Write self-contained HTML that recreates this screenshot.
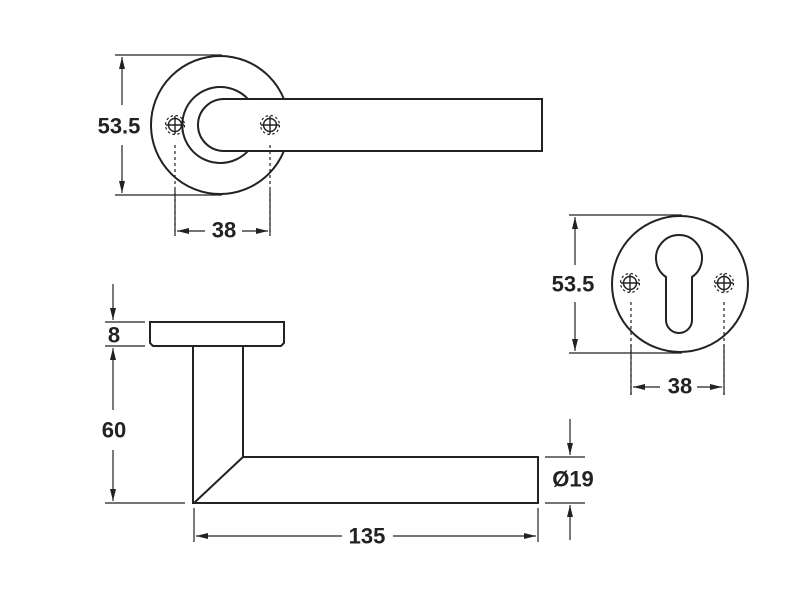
<!DOCTYPE html>
<html><head><style>body{margin:0;background:#fff}svg{display:block}text{font-family:"Liberation Sans",sans-serif;font-size:22px;fill:#222;text-anchor:middle;dominant-baseline:central;font-weight:bold}</style></head><body>
<svg width="800" height="600" viewBox="0 0 800 600" xmlns="http://www.w3.org/2000/svg">
<defs><marker id="a" viewBox="0 0 12 6" refX="12" refY="3" markerWidth="13" markerHeight="6" orient="auto" markerUnits="userSpaceOnUse"><path d="M0,0L12,3L0,6z" fill="#222"/></marker>
<g id="s"><circle r="6.5" fill="none" stroke="#222" stroke-width="1.5"/><line x1="-9" y1="0" x2="9" y2="0" stroke="#222" stroke-width="1.4"/><line x1="0" y1="-9" x2="0" y2="9" stroke="#222" stroke-width="1.4"/><circle r="9.5" fill="none" stroke="#222" stroke-width="1.2" stroke-dasharray="2.5 2.5"/></g></defs>
<g stroke="#222" fill="none" stroke-width="2">
<circle cx="220" cy="125" r="69"/>
<path d="M248,99 A38,38 0 1 0 248,151"/>
<path d="M224,151 H542 V99 H224 A26,26 0 0 0 224,151 Z" fill="#fff"/>
</g>
<g stroke="#222" stroke-width="1.2" fill="none">
<use href="#s" x="175" y="125"/><use href="#s" x="270" y="125"/>
<line x1="175" y1="145" x2="175" y2="236" stroke-dasharray="3 3"/>
<line x1="270" y1="145" x2="270" y2="236" stroke-dasharray="3 3"/>
<line x1="175" y1="190" x2="175" y2="236"/><line x1="270" y1="190" x2="270" y2="236"/>
<line x1="205" y1="231" x2="177" y2="231" marker-end="url(#a)"/>
<line x1="242" y1="231" x2="268" y2="231" marker-end="url(#a)"/>
<line x1="115" y1="55" x2="222" y2="55"/><line x1="115" y1="195" x2="222" y2="195"/>
<line x1="122" y1="105" x2="122" y2="57" marker-end="url(#a)"/>
<line x1="122" y1="145" x2="122" y2="193" marker-end="url(#a)"/>
</g>
<text x="119" y="126">53.5</text><text x="224" y="230">38</text>
<g stroke="#222" fill="none" stroke-width="2">
<circle cx="680" cy="284" r="68"/>
<path d="M666,320 V277 A23,23 0 1 1 692,277 V320 A13,13 0 0 1 666,320 Z"/>
</g>
<g stroke="#222" stroke-width="1.2" fill="none">
<use href="#s" x="630" y="283"/><use href="#s" x="724" y="283"/>
<line x1="631" y1="302" x2="631" y2="395" stroke-dasharray="3 3"/>
<line x1="724" y1="302" x2="724" y2="395" stroke-dasharray="3 3"/>
<line x1="631" y1="345" x2="631" y2="395"/><line x1="724" y1="345" x2="724" y2="395"/>
<line x1="660" y1="387" x2="633" y2="387" marker-end="url(#a)"/>
<line x1="697" y1="387" x2="722" y2="387" marker-end="url(#a)"/>
<line x1="569" y1="215" x2="682" y2="215"/><line x1="569" y1="353" x2="682" y2="353"/>
<line x1="575" y1="265" x2="575" y2="217" marker-end="url(#a)"/>
<line x1="575" y1="302" x2="575" y2="351" marker-end="url(#a)"/>
</g>
<text x="573" y="284">53.5</text><text x="680" y="386">38</text>
<g stroke="#222" fill="none" stroke-width="2">
<path d="M150,322 H284 V343 L281,346 H153 L150,343 Z"/>
<path d="M193,346 V503 H538 V457 H243 V346"/>
<line x1="243" y1="457" x2="194" y2="503"/>
</g>
<g stroke="#222" stroke-width="1.2" fill="none">
<line x1="105" y1="322" x2="145" y2="322"/><line x1="105" y1="346" x2="145" y2="346"/>
<line x1="105" y1="503" x2="185" y2="503"/>
<line x1="113" y1="284" x2="113" y2="320" marker-end="url(#a)"/>
<line x1="113" y1="410" x2="113" y2="348" marker-end="url(#a)"/>
<line x1="113" y1="450" x2="113" y2="501" marker-end="url(#a)"/>
<line x1="545" y1="457" x2="585" y2="457"/><line x1="545" y1="503" x2="585" y2="503"/>
<line x1="570" y1="419" x2="570" y2="455" marker-end="url(#a)"/>
<line x1="570" y1="540" x2="570" y2="505" marker-end="url(#a)"/>
<line x1="194" y1="508" x2="194" y2="542"/><line x1="538" y1="508" x2="538" y2="542"/>
<line x1="342" y1="536" x2="196" y2="536" marker-end="url(#a)"/>
<line x1="393" y1="536" x2="536" y2="536" marker-end="url(#a)"/>
</g>
<text x="114" y="335">8</text><text x="114" y="430">60</text><text x="573" y="479">Ø19</text><text x="367" y="536">135</text>
</svg></body></html>
